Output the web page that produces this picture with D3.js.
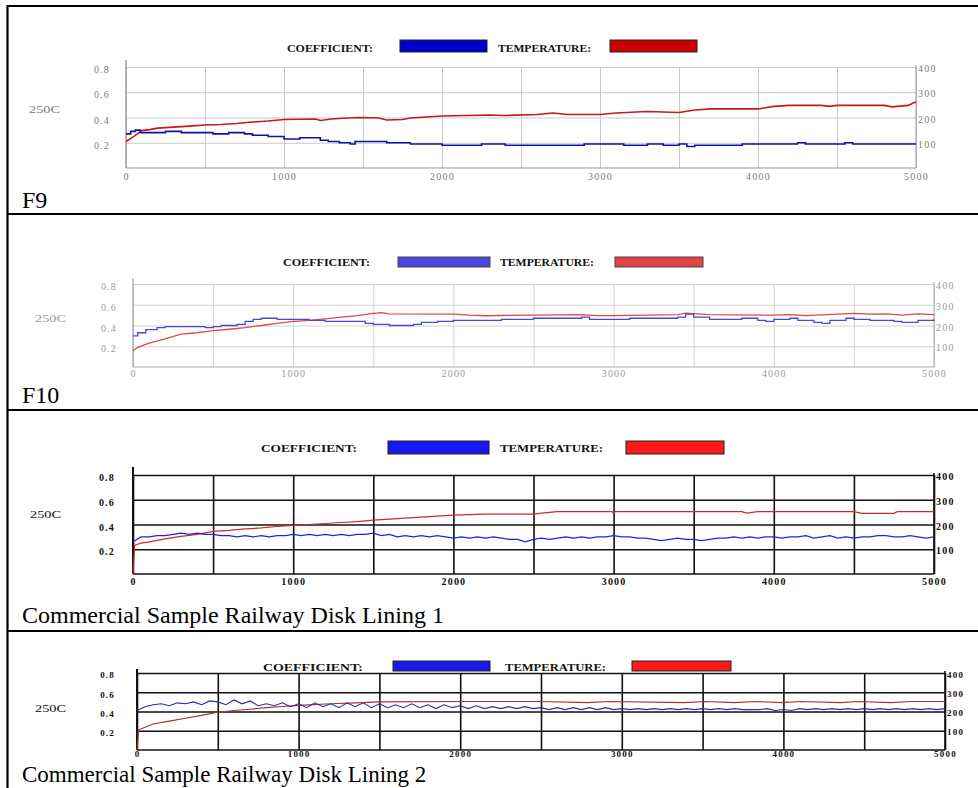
<!DOCTYPE html>
<html>
<head>
<meta charset="utf-8">
<script src="https://cdn.jsdelivr.net/npm/d3@7/dist/d3.min.js"></script>
<style>
  body { margin: 0; background: #fff; }
  svg { display: block; }
</style>
</head>
<body>
<script>
// axis ticks shared by all four tests
var distTicks = [0, 1000, 2000, 3000, 4000, 5000];
var coefTicks = [0.2, 0.4, 0.6, 0.8];
var tempTicks = [100, 200, 300, 400];
var seriesNames = ['COEFFICIENT:', 'TEMPERATURE:'];
var panelTitles = ['F9', 'F10', 'Commercial Sample Railway Disk Lining 1',
                   'Commercial Sample Railway Disk Lining 2'];
var sideLabel = '250C';

// F9 : [distance, value]
var f9Coef = [[0,0.27],[30,0.29],[60,0.30],[90,0.28],[150,0.28],[250,0.29],[350,0.28],
  [450,0.28],[550,0.27],[650,0.28],[750,0.27],[800,0.26],[850,0.26],[900,0.25],[1000,0.23],
  [1100,0.24],[1200,0.24],[1230,0.22],[1280,0.21],[1350,0.20],[1420,0.19],[1450,0.21],
  [1550,0.21],[1650,0.20],[1750,0.20],[1800,0.19],[2000,0.18],[2100,0.18],[2250,0.19],
  [2400,0.18],[2600,0.18],[2900,0.19],[3050,0.19],[3150,0.18],[3300,0.19],[3400,0.18],
  [3500,0.19],[3550,0.17],[3600,0.18],[3700,0.18],[3900,0.19],[4000,0.19],[4100,0.19],
  [4250,0.20],[4300,0.19],[4500,0.19],[4550,0.20],[4600,0.19],[5000,0.19]];
var f9Temp = [[0,105],[50,125],[100,148],[150,152],[200,158],[300,162],[400,166],[500,170],
  [600,172],[700,176],[800,182],[900,186],[1000,192],[1200,194],[1230,188],[1300,194],
  [1400,198],[1500,200],[1600,198],[1650,190],[1750,192],[1800,198],[1900,202],[2000,206],
  [2300,210],[2400,208],[2600,212],[2700,218],[2800,212],[3000,212],[3100,218],[3300,224],
  [3500,220],[3600,230],[3700,234],[4000,234],[4100,244],[4200,248],[4400,248],[4450,244],
  [4500,248],[4800,248],[4850,242],[4950,248],[5000,262]];

// F10
var f10Coef = [[0,0.30],[30,0.33],[80,0.36],[150,0.38],[200,0.39],[400,0.39],[450,0.38],
  [500,0.39],[550,0.40],[650,0.41],[700,0.44],[750,0.46],[800,0.47],[900,0.46],[1000,0.46],
  [1100,0.45],[1200,0.44],[1400,0.44],[1450,0.42],[1500,0.41],[1600,0.40],[1700,0.40],
  [1750,0.41],[1800,0.43],[1900,0.44],[2000,0.45],[2200,0.45],[2300,0.46],[2500,0.47],
  [2800,0.48],[2850,0.46],[3000,0.46],[3100,0.47],[3400,0.48],[3450,0.51],[3500,0.48],
  [3600,0.46],[3800,0.47],[3900,0.45],[3950,0.44],[4000,0.46],[4100,0.47],[4150,0.45],
  [4250,0.43],[4300,0.42],[4350,0.45],[4450,0.47],[4500,0.46],[4600,0.45],[4750,0.44],
  [4800,0.43],[4900,0.45],[5000,0.46]];
var f10Temp = [[0,78],[30,95],[100,115],[200,135],[300,158],[400,165],[500,175],[600,182],
  [700,190],[800,200],[900,210],[1000,220],[1100,225],[1200,232],[1300,240],[1400,248],
  [1500,258],[1550,262],[1600,256],[2000,255],[2100,250],[2200,247],[2500,250],[2800,252],
  [2900,248],[3000,248],[3400,252],[3450,260],[3600,252],[4000,250],[4100,252],[4200,248],
  [4500,258],[4600,255],[4700,256],[4800,250],[4900,256],[5000,252]];

// Commercial lining 1 : coefficient sampled every 50 m
var lining1Coef = [0.26,0.30,0.30,0.31,0.31,0.32,0.33,0.32,0.33,0.32,
  0.32,0.31,0.31,0.30,0.31,0.30,0.31,0.30,0.31,0.31,
  0.32,0.31,0.32,0.31,0.32,0.31,0.32,0.31,0.32,0.32,
  0.33,0.31,0.32,0.30,0.31,0.30,0.31,0.30,0.31,0.30,
  0.29,0.30,0.29,0.30,0.29,0.30,0.29,0.28,0.28,0.26,
  0.28,0.29,0.28,0.29,0.30,0.29,0.30,0.29,0.30,0.30,
  0.31,0.30,0.30,0.29,0.29,0.28,0.27,0.28,0.29,0.28,
  0.28,0.27,0.28,0.29,0.29,0.30,0.29,0.30,0.29,0.30,
  0.30,0.29,0.30,0.30,0.31,0.29,0.30,0.31,0.29,0.30,
  0.29,0.30,0.30,0.31,0.31,0.30,0.30,0.31,0.30,0.29,0.30];
var lining1Temp = [[0,0],[10,115],[50,125],[100,130],[200,142],[300,152],[400,160],[500,172],
  [600,176],[700,182],[800,186],[900,192],[1000,196],[1100,200],[1200,204],[1300,208],
  [1400,212],[1500,218],[1600,222],[1700,226],[1800,230],[1900,234],[2000,238],[2100,240],
  [2200,242],[2500,242],[2550,246],[2650,252],[2990,252],[3000,246],[3010,252],[3800,252],
  [3830,246],[3900,252],[4500,252],[4550,245],[4750,245],[4770,252],[5000,252]];

// Commercial lining 2 : coefficient sampled every 50 m
var lining2Coef = [0.41,0.45,0.47,0.48,0.46,0.49,0.48,0.50,0.47,0.51,
  0.50,0.47,0.52,0.48,0.51,0.46,0.48,0.46,0.49,0.45,
  0.48,0.44,0.49,0.45,0.48,0.44,0.49,0.45,0.49,0.44,
  0.48,0.44,0.47,0.44,0.48,0.44,0.47,0.43,0.47,0.44,
  0.46,0.43,0.46,0.43,0.45,0.43,0.45,0.43,0.45,0.43,
  0.44,0.42,0.44,0.42,0.44,0.42,0.44,0.42,0.44,0.42,
  0.43,0.42,0.43,0.42,0.43,0.42,0.43,0.42,0.43,0.42,
  0.43,0.42,0.43,0.42,0.43,0.42,0.42,0.42,0.43,0.41,
  0.42,0.41,0.43,0.42,0.43,0.42,0.43,0.42,0.43,0.42,
  0.43,0.42,0.43,0.42,0.43,0.42,0.43,0.42,0.43,0.42,0.43];
var lining2Temp = [[0,0],[10,105],[50,118],[100,135],[200,150],[300,165],[400,180],[500,196],
  [600,205],[700,212],[800,220],[900,226],[1000,232],[1200,240],[1400,246],[1500,250],
  [2000,252],[2500,252],[2790,246],[2920,252],[3390,246],[3515,252],[3700,246],[3825,252],
  [3985,246],[4110,252],[4355,246],[4460,252],[4665,246],[4790,252],[5000,252]];

var sampleStep = 50;
function sampled(values) {
  return values.map(function(v, i) { return [i * sampleStep, v]; });
}

var w = 978, h = 788;
var svg = d3.select('body').append('svg').attr('width', w).attr('height', h);

// panel layout and look (one per table row)
var panels = [
  { title: panelTitles[0], coef: f9Coef, temp: f9Temp, coefCurve: d3.curveStepAfter,
    left: 126, right: 916, top: 67, bottom: 168, axisTop: 60, titleY: 208, titleSize: 24,
    sideY: 113, sideX: 29,
    legY: 52, boxY: 40, boxH: 12, leg: [287, 86, 400, 487, 498, 93, 610, 697],
    grid: '#c9c9c9', gridW: 1, axisCol: '#999', tickCol: '#7a7a7a', tickWeight: 'normal',
    yPad: 16, xPad: 5, tickSize: 10, blue: '#1010a8', red: '#c81818', lineW: 1.6,
    boxBlue: '#0000cc', boxRed: '#cc0000', boxStroke: '#222' },
  { title: panelTitles[1], coef: f10Coef, temp: f10Temp, coefCurve: d3.curveStepAfter,
    left: 133, right: 934, top: 284, bottom: 367, axisTop: 278, titleY: 403, titleSize: 24,
    sideY: 322, sideX: 35,
    legY: 266, boxY: 257, boxH: 10, leg: [283, 87, 398, 490, 500, 94, 615, 703],
    grid: '#d2d2d2', gridW: 1, axisCol: '#aaa', tickCol: '#9a9a9a', tickWeight: 'normal',
    yPad: 16, xPad: 3, tickSize: 10, blue: '#4848d8', red: '#e04848', lineW: 1.3,
    boxBlue: '#4a4ae0', boxRed: '#e04444', boxStroke: '#444' },
  { title: panelTitles[2], coef: sampled(lining1Coef), temp: lining1Temp, coefCurve: d3.curveLinear,
    left: 133, right: 934, top: 475, bottom: 574, axisTop: 467, titleY: 623, titleSize: 24,
    sideY: 518, sideX: 30,
    legY: 452, boxY: 441, boxH: 13, leg: [261, 96, 388, 489, 500, 103, 626, 724],
    grid: '#111', gridW: 1.6, axisCol: '#111', tickCol: '#111', tickWeight: 'bold',
    yPad: 18, xPad: 4, tickSize: 10, blue: '#2222dd', red: '#cc2a2a', lineW: 1.2,
    boxBlue: '#1818f0', boxRed: '#ff1a1a', boxStroke: '#222' },
  { title: panelTitles[3], coef: sampled(lining2Coef), temp: lining2Temp, coefCurve: d3.curveLinear,
    left: 137, right: 945, top: 673, bottom: 750, axisTop: 669, titleY: 782, titleSize: 23,
    sideY: 712, sideX: 35,
    legY: 671, boxY: 661, boxH: 10, leg: [263, 100, 393, 490, 505, 101, 632, 731],
    grid: '#111', gridW: 1.6, axisCol: '#111', tickCol: '#111', tickWeight: 'bold',
    yPad: 22, xPad: 1, tickSize: 9, blue: '#2a2ab0', red: '#a83030', lineW: 1.1,
    boxBlue: '#1818f0', boxRed: '#ff1a1a', boxStroke: '#222' }
];

panels.forEach(drawPanel);

// table borders
var rowLines = [6, 214, 410, 631];
svg.selectAll('.row-line')
   .data(rowLines)
   .enter()
   .append('line')
   .attr('x1', 7).attr('x2', w)
   .attr('y1', function(d) { return d; })
   .attr('y2', function(d) { return d; })
   .attr('stroke', '#000')
   .attr('stroke-width', 2.2);
svg.append('line')
   .attr('x1', 7.5).attr('x2', 7.5).attr('y1', 5).attr('y2', h)
   .attr('stroke', '#000').attr('stroke-width', 2.2);

function drawPanel(p) {
  var x = d3.scaleLinear().domain([0, 5000]).range([p.left, p.right]);
  var yC = d3.scaleLinear().domain([0, 0.8]).range([p.bottom, p.top]);
  var yT = d3.scaleLinear().domain([0, 400]).range([p.bottom, p.top]);
  var g = svg.append('g');
  var font = 'Liberation Serif, Times New Roman, serif';

  // vertical grid every 500
  var vg = g.append('g')
     .attr('transform', 'translate(0,' + p.bottom + ')')
     .call(d3.axisBottom(x).ticks(10).tickSize(-(p.bottom - p.top)).tickFormat(''));
  vg.select('.domain').remove();
  vg.selectAll('line').attr('stroke', p.grid).attr('stroke-width', p.gridW);

  // horizontal grid at coefficient ticks
  var hg = g.append('g')
     .attr('transform', 'translate(' + p.left + ',0)')
     .call(d3.axisLeft(yC).tickValues(coefTicks).tickSize(-(p.right - p.left)).tickFormat(''));
  hg.select('.domain').remove();
  hg.selectAll('line').attr('stroke', p.grid).attr('stroke-width', p.gridW);

  // axis lines
  g.append('line').attr('x1', p.left).attr('x2', p.left)
     .attr('y1', p.axisTop).attr('y2', p.bottom)
     .attr('stroke', p.axisCol).attr('stroke-width', p.gridW + 0.4);
  g.append('line').attr('x1', p.right).attr('x2', p.right)
     .attr('y1', p.top - 2).attr('y2', p.bottom)
     .attr('stroke', p.axisCol).attr('stroke-width', p.gridW);
  g.append('line').attr('x1', p.left).attr('x2', p.right)
     .attr('y1', p.bottom).attr('y2', p.bottom)
     .attr('stroke', p.axisCol).attr('stroke-width', p.gridW);

  // tick labels
  var bottomAxis = g.append('g')
     .attr('transform', 'translate(0,' + p.bottom + ')')
     .call(d3.axisBottom(x).tickValues(distTicks).tickSize(0).tickPadding(p.xPad)
            .tickFormat(d3.format('d')));
  var leftAxis = g.append('g')
     .attr('transform', 'translate(' + p.left + ',0)')
     .call(d3.axisLeft(yC).tickValues(coefTicks).tickSize(0).tickPadding(p.yPad)
            .tickFormat(d3.format('.1f')));
  var rightAxis = g.append('g')
     .attr('transform', 'translate(' + p.right + ',0)')
     .call(d3.axisRight(yT).tickValues(tempTicks).tickSize(0).tickPadding(2)
            .tickFormat(d3.format('d')));
  [bottomAxis, leftAxis, rightAxis].forEach(function(a) {
    a.select('.domain').remove();
    a.selectAll('text')
     .attr('fill', p.tickCol)
     .attr('font-family', font)
     .attr('font-size', p.tickSize + 'px')
     .attr('font-weight', p.tickWeight)
     .attr('letter-spacing', '1.2px');
  });
  leftAxis.selectAll('text').attr('dy', '0.55em');
  rightAxis.selectAll('text').attr('dy', '0.45em');

  // series lines
  var coefLine = d3.line()
     .x(function(d) { return x(d[0]); })
     .y(function(d) { return yC(d[1]); })
     .curve(p.coefCurve);
  var tempLine = d3.line()
     .x(function(d) { return x(d[0]); })
     .y(function(d) { return yT(d[1]); });
  g.append('path').datum(p.temp)
     .attr('d', tempLine).attr('fill', 'none')
     .attr('stroke', p.red).attr('stroke-width', p.lineW);
  g.append('path').datum(p.coef)
     .attr('d', coefLine).attr('fill', 'none')
     .attr('stroke', p.blue).attr('stroke-width', p.lineW);

  // legend
  var L = p.leg;
  [[L[0], L[1], L[2], L[3], seriesNames[0], p.boxBlue],
   [L[4], L[5], L[6], L[7], seriesNames[1], p.boxRed]].forEach(function(e) {
    g.append('text')
       .attr('x', e[0]).attr('y', p.legY)
       .attr('textLength', e[1]).attr('lengthAdjust', 'spacingAndGlyphs')
       .attr('font-family', font).attr('font-size', '10px').attr('font-weight', 'bold')
       .attr('fill', '#111')
       .text(e[4]);
    g.append('rect')
       .attr('x', e[2]).attr('y', p.boxY)
       .attr('width', e[3] - e[2]).attr('height', p.boxH)
       .attr('fill', e[5]).attr('stroke', p.boxStroke).attr('stroke-width', 1);
  });

  // side label and title
  g.append('text')
     .attr('x', p.sideX).attr('y', p.sideY)
     .attr('textLength', 31).attr('lengthAdjust', 'spacingAndGlyphs')
     .attr('font-family', font).attr('font-size', '10px')
     .attr('fill', p.tickCol)
     .text(sideLabel);
  g.append('text')
     .attr('x', 22).attr('y', p.titleY)
     .attr('font-family', font).attr('font-size', p.titleSize + 'px')
     .attr('fill', '#000')
     .text(p.title);
}
</script>
</body>
</html>
